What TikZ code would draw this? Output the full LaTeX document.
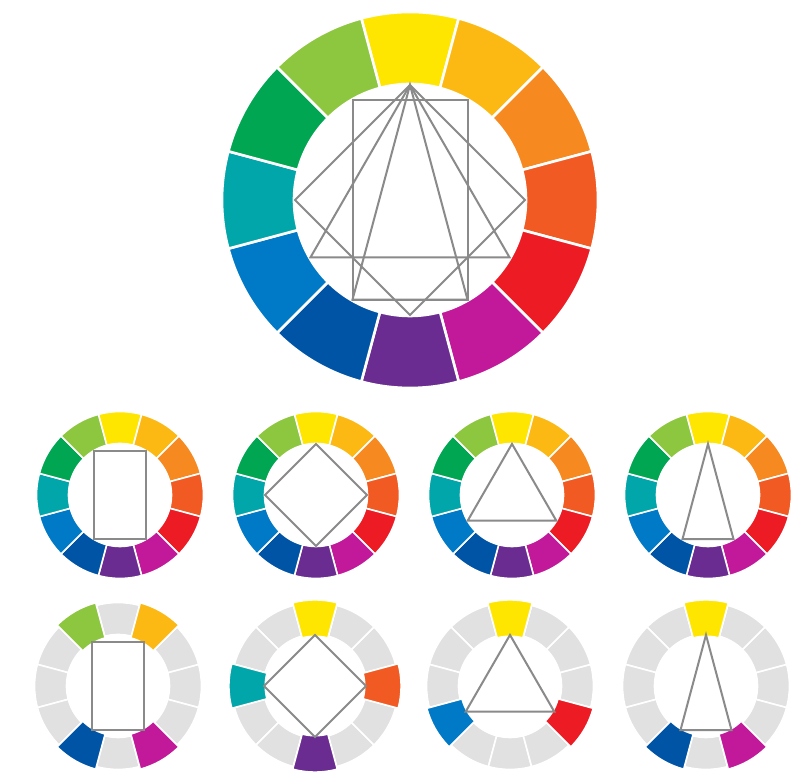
\documentclass[tikz,border=0pt]{standalone}
\usetikzlibrary{calc}
\definecolor{WheelYellow}{HTML}{FFE600}
\definecolor{WheelAmber}{HTML}{FDB913}
\definecolor{WheelOrange}{HTML}{F6891F}
\definecolor{WheelVermilion}{HTML}{F15A22}
\definecolor{WheelRed}{HTML}{ED1C24}
\definecolor{WheelMagenta}{HTML}{C2199B}
\definecolor{WheelViolet}{HTML}{6B2C91}
\definecolor{WheelIndigo}{HTML}{0054A6}
\definecolor{WheelBlue}{HTML}{0079C6}
\definecolor{WheelTeal}{HTML}{00A6A9}
\definecolor{WheelGreen}{HTML}{00A651}
\definecolor{WheelLime}{HTML}{8DC63F}
\definecolor{RingGray}{HTML}{E1E1E1}
\definecolor{ChordGray}{HTML}{8A8A8A}

\tikzset{
  segment/.style={draw=white, line width=1.6pt, line join=round},
  chord/.style={draw=ChordGray, line width=2pt, line join=miter},
}

% one piece of the ring: angle, outer radius, inner radius, colour
\newcommand{\RingPiece}[4]{%
  \filldraw[segment, fill=#4] (#1-15:#2) arc[start angle=#1-15, end angle=#1+15, radius=#2]
    -- (#1+15:#3) arc[start angle=#1+15, end angle=#1-15, radius=#3] -- cycle;}
\newcommand{\FullRing}{%
  \foreach \a/\c in {90/WheelYellow, 60/WheelAmber, 30/WheelOrange, 0/WheelVermilion,
    -30/WheelRed, -60/WheelMagenta, -90/WheelViolet, -120/WheelIndigo,
    -150/WheelBlue, 180/WheelTeal, 150/WheelGreen, 120/WheelLime}
    \RingPiece{\a}{188}{116}{\c};}
\newcommand{\GrayRing}{%
  \foreach \a in {0,30,...,330} \RingPiece{\a}{188}{116}{RingGray};}
\newcommand{\PickRing}[1]{%
  \foreach \a/\c in {#1} \RingPiece{\a}{194}{112}{\c};}
% the chord figures
\newcommand{\ChordRect}{\draw[chord] (60:115) -- (120:115) -- (240:115) -- (300:115) -- cycle;}
\newcommand{\ChordSquare}{\draw[chord] (90:115) -- (180:115) -- (270:115) -- (0:115) -- cycle;}
\newcommand{\ChordTriad}{\draw[chord] (90:115) -- (210:115) -- (330:115) -- cycle;}
\newcommand{\ChordSplit}{\draw[chord] (90:115) -- (240:115) -- (300:115) -- cycle;}

\begin{document}
\begin{tikzpicture}[x=1pt, y=1pt]
  \useasboundingbox[fill=white] (0,0) rectangle (807,778);

  % big wheel with all four figures
  \begin{scope}[shift={(410,578)}, segment/.append style={line width=2.6pt}]
    \FullRing
    \ChordRect
    \ChordSquare
    \ChordTriad
    \ChordSplit
  \end{scope}

  % middle row: full colour
  \begin{scope}[shift={(120,283)}, scale=0.444]
    \FullRing \ChordRect
  \end{scope}
  \begin{scope}[shift={(316,283)}, scale=0.444]
    \FullRing \ChordSquare
  \end{scope}
  \begin{scope}[shift={(512,283)}, scale=0.444]
    \FullRing \ChordTriad
  \end{scope}
  \begin{scope}[shift={(708,283)}, scale=0.444]
    \FullRing \ChordSplit
  \end{scope}

  % bottom row: only the picked hues
  \begin{scope}[shift={(118,92)}, scale=0.444]
    \GrayRing
    \PickRing{120/WheelLime, 60/WheelAmber, -120/WheelIndigo, -60/WheelMagenta}
    \ChordRect
  \end{scope}
  \begin{scope}[shift={(315,92)}, scale=0.444]
    \GrayRing
    \PickRing{90/WheelYellow, 0/WheelVermilion, 180/WheelTeal, -90/WheelViolet}
    \ChordSquare
  \end{scope}
  \begin{scope}[shift={(510,92)}, scale=0.444]
    \GrayRing
    \PickRing{90/WheelYellow, 210/WheelBlue, -30/WheelRed}
    \ChordTriad
  \end{scope}
  \begin{scope}[shift={(706,92)}, scale=0.444]
    \GrayRing
    \PickRing{90/WheelYellow, -120/WheelIndigo, -60/WheelMagenta}
    \ChordSplit
  \end{scope}
\end{tikzpicture}
\end{document}
